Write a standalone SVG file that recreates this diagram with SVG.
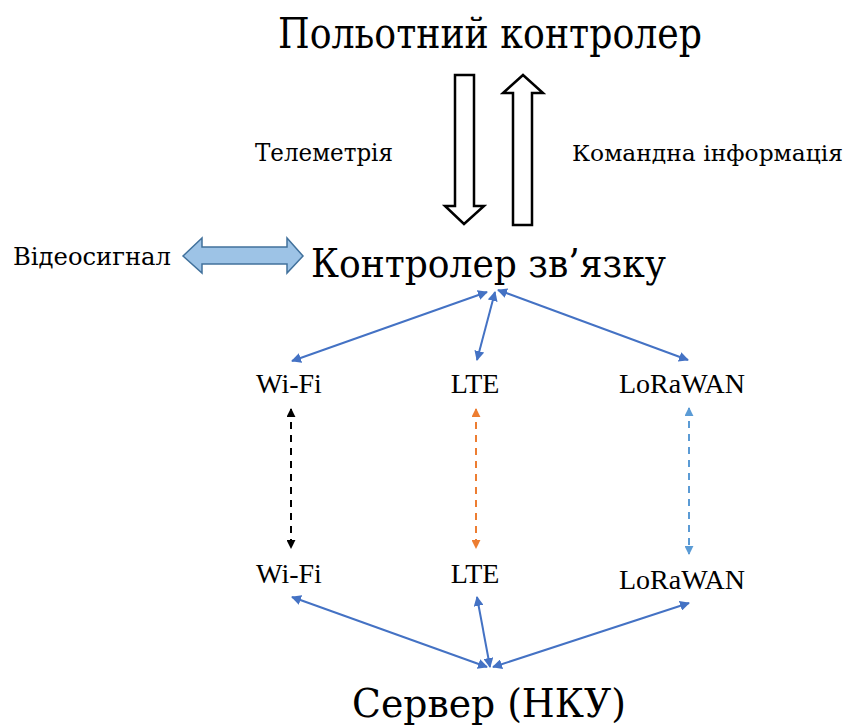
<svg xmlns="http://www.w3.org/2000/svg" width="850" height="727" viewBox="0 0 850 727">
<style>
text{font-family:"Liberation Serif","DejaVu Serif","Times New Roman",serif;fill:#000}
.cy{font-family:"DejaVu Serif","Liberation Serif",serif}
.lbl{font-size:28px}
.bl{stroke:#4472C4;stroke-width:2;fill:none}
.blk{fill:#fff;stroke:#000;stroke-width:2.5}
</style>
<defs>
<marker id="ab" viewBox="0 0 10 10" refX="9" refY="5" markerWidth="5" markerHeight="5" orient="auto-start-reverse" markerUnits="strokeWidth"><path d="M0,0 L10,5 L0,10 z" fill="#4472C4"/></marker>
<marker id="ak" viewBox="0 0 10 10" refX="9" refY="5" markerWidth="4.5" markerHeight="4.5" orient="auto-start-reverse" markerUnits="strokeWidth"><path d="M0,0 L10,5 L0,10 z" fill="#000"/></marker>
<marker id="ao" viewBox="0 0 10 10" refX="9" refY="5" markerWidth="4.5" markerHeight="4.5" orient="auto-start-reverse" markerUnits="strokeWidth"><path d="M0,0 L10,5 L0,10 z" fill="#ED7D31"/></marker>
<marker id="al" viewBox="0 0 10 10" refX="9" refY="5" markerWidth="4.5" markerHeight="4.5" orient="auto-start-reverse" markerUnits="strokeWidth"><path d="M0,0 L10,5 L0,10 z" fill="#5B9BD5"/></marker>
</defs>
<g id="flight-controller"><text class="cy" x="278" y="48" font-size="43" textLength="424" lengthAdjust="spacingAndGlyphs">Польотний контролер</text></g>
<g id="comm-controller"><text class="cy" x="311" y="277" font-size="40" textLength="355" lengthAdjust="spacingAndGlyphs">Контролер зв’язку</text></g>
<g id="server"><text class="cy" x="352" y="717" font-size="39" textLength="274" lengthAdjust="spacingAndGlyphs">Сервер (НКУ)</text></g>
<g id="telemetry-label"><text class="cy" x="255" y="161" font-size="25" textLength="138" lengthAdjust="spacingAndGlyphs">Телеметрія</text></g>
<g id="command-label"><text class="cy" x="572" y="161" font-size="22" textLength="271" lengthAdjust="spacingAndGlyphs">Командна інформація</text></g>
<g id="video-label"><text class="cy" x="13" y="265" font-size="25" textLength="158" lengthAdjust="spacingAndGlyphs">Відеосигнал</text></g>
<g id="wifi-top"><text class="lbl" x="289" y="393" text-anchor="middle">Wi-Fi</text></g>
<g id="lte-top"><text class="lbl" x="475" y="393" text-anchor="middle">LTE</text></g>
<g id="lora-top"><text class="lbl" x="682" y="393" text-anchor="middle">LoRaWAN</text></g>
<g id="wifi-bottom"><text class="lbl" x="289" y="583" text-anchor="middle">Wi-Fi</text></g>
<g id="lte-bottom"><text class="lbl" x="475" y="583" text-anchor="middle">LTE</text></g>
<g id="lora-bottom"><text class="lbl" x="682" y="589" text-anchor="middle">LoRaWAN</text></g>
<g id="connectors">
<path class="blk" d="M455,75 H474 V206 H484 L464,224 L445,206 H455 Z"/>
<path class="blk" d="M513,225 V93 H503 L523,75 L543,93 H532 V225 Z"/>
<path d="M183,256 L202,238 V247 H287 V238 L303,256 L287,273 V264 H202 V273 Z" fill="#9DC3E6" stroke="#41719C" stroke-width="1.5"/>
<line class="bl" x1="487" y1="292" x2="292" y2="361" marker-start="url(#ab)" marker-end="url(#ab)"/>
<line class="bl" x1="495" y1="292" x2="477" y2="360" marker-start="url(#ab)" marker-end="url(#ab)"/>
<line class="bl" x1="498" y1="290" x2="688" y2="360" marker-start="url(#ab)" marker-end="url(#ab)"/>
<line x1="291" y1="409" x2="291" y2="548" stroke="#000" stroke-width="2" stroke-dasharray="7,6" marker-start="url(#ak)" marker-end="url(#ak)"/>
<line x1="476" y1="409" x2="476" y2="548" stroke="#ED7D31" stroke-width="2" stroke-dasharray="7,6" marker-start="url(#ao)" marker-end="url(#ao)"/>
<line x1="689" y1="408" x2="689" y2="554" stroke="#5B9BD5" stroke-width="2" stroke-dasharray="7,6" marker-start="url(#al)" marker-end="url(#al)"/>
<line class="bl" x1="292" y1="597" x2="487" y2="667" marker-start="url(#ab)" marker-end="url(#ab)"/>
<line class="bl" x1="477" y1="597" x2="490" y2="667" marker-start="url(#ab)" marker-end="url(#ab)"/>
<line class="bl" x1="689" y1="603" x2="493" y2="667" marker-start="url(#ab)" marker-end="url(#ab)"/>
</g>
</svg>
